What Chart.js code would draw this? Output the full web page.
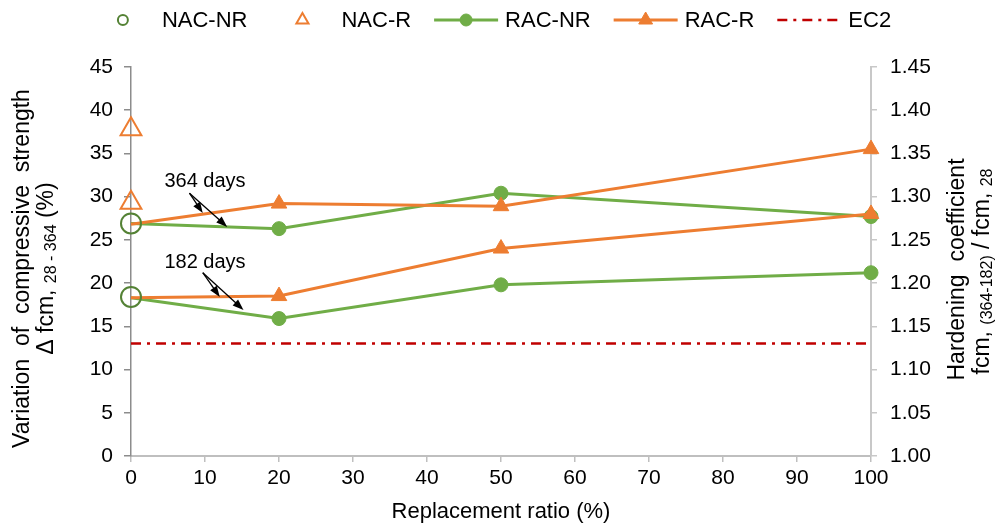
<!DOCTYPE html>
<html>
<head>
<meta charset="utf-8">
<script src="https://cdn.jsdelivr.net/npm/chart.js@4.4.1/dist/chart.umd.min.js"></script>
<style>
  html, body { margin: 0; padding: 0; background: #fff; }
  #wrap { width: 999px; height: 527px; }
</style>
</head>
<body>
<div id="wrap"><canvas id="chart" width="999" height="527"></canvas></div>
<script>
// replacement ratio (%) and variation of compressive strength (%)
const ratios = [0, 20, 50, 100];
const racNr364 = [26.9, 26.3, 30.4, 27.7];
const racNr182 = [18.3, 15.9, 19.8, 21.2];
const racR364 = [26.8, 29.2, 28.9, 35.5];
const racR182 = [18.3, 18.5, 24.0, 28.0];
const nacX = [0, 0];
const nacNr = [26.9, 18.4];
const nacR = [37.8, 29.3];
const ec2X = [0, 100];
const ec2 = [13.0, 13.0];

const leftAxis = { min: 0, max: 45, step: 5 };
const rightAxis = { min: 1.00, max: 1.45, step: 0.05 };
const xAxis = { min: 0, max: 100, step: 10 };

const FONT = '"Liberation Sans", Arial, sans-serif';
const green = '#70AD47', darkGreen = '#548235', orange = '#ED7D31', red = '#C00000';

function pts(xs, ys) {
    return ys.map(function(y, i) { return { x: xs[i], y: y }; });
}

// annotation arrows, in data units
const notes = [
    { text: '364 days', at: [10, 31.8], from: [7.9, 30.4], to: [[9.7, 28.1], [13.0, 26.5]] },
    { text: '182 days', at: [10, 22.4], from: [9.7, 21.2], to: [[12.0, 18.4], [15.2, 16.9]] }
];

function drawRich(ctx, parts, cx, cy, size) {
    ctx.save();
    ctx.translate(cx, cy);
    ctx.rotate(-Math.PI / 2);
    let w = 0;
    parts.forEach(function(p) {
        ctx.font = (p.sub ? Math.round(size * 0.68) : size) + 'px ' + FONT;
        p.w = ctx.measureText(p.t).width;
        w += p.w;
    });
    let x = -w / 2;
    ctx.textBaseline = 'middle';
    ctx.textAlign = 'left';
    ctx.fillStyle = '#000';
    parts.forEach(function(p) {
        ctx.font = (p.sub ? Math.round(size * 0.68) : size) + 'px ' + FONT;
        ctx.fillText(p.t, x, p.sub ? 5 : 0);
        x += p.w;
    });
    ctx.restore();
}

const titlesPlugin = {
    id: 'axisTitles',
    afterDraw(chart) {
        const ctx = chart.ctx;
        const cy = (chart.chartArea.top + chart.chartArea.bottom) / 2;
        drawRich(ctx, [{ t: 'Variation  of  compressive  strength' }], 23, cy + 7, 23);
        drawRich(ctx, [{ t: '\u0394 fcm, ' }, { t: '28 - 364', sub: true }, { t: ' (%)' }], 47, cy + 7, 23);
        drawRich(ctx, [{ t: 'Hardening  coefficient' }], 958, cy + 8, 23);
        drawRich(ctx, [{ t: 'fcm, ' }, { t: '(364-182)', sub: true }, { t: ' / fcm, ' }, { t: '28', sub: true }], 983, cy + 10, 23);
    }
};

function arrow(ctx, x1, y1, x2, y2) {
    const a = Math.atan2(y2 - y1, x2 - x1);
    ctx.beginPath();
    ctx.moveTo(x1, y1);
    ctx.lineTo(x2 - 8 * Math.cos(a), y2 - 8 * Math.sin(a));
    ctx.stroke();
    ctx.beginPath();
    ctx.moveTo(x2, y2);
    ctx.lineTo(x2 - 11 * Math.cos(a) + 4 * Math.sin(a), y2 - 11 * Math.sin(a) - 4 * Math.cos(a));
    ctx.lineTo(x2 - 11 * Math.cos(a) - 4 * Math.sin(a), y2 - 11 * Math.sin(a) + 4 * Math.cos(a));
    ctx.closePath();
    ctx.fill();
}

const notesPlugin = {
    id: 'notes',
    afterDatasetsDraw(chart) {
        const ctx = chart.ctx, sx = chart.scales.x, sy = chart.scales.y;
        ctx.save();
        ctx.font = '20px ' + FONT;
        ctx.fillStyle = '#000';
        ctx.strokeStyle = '#000';
        ctx.lineWidth = 1.3;
        ctx.textAlign = 'center';
        ctx.textBaseline = 'middle';
        notes.forEach(function(n) {
            ctx.fillText(n.text, sx.getPixelForValue(n.at[0]), sy.getPixelForValue(n.at[1]));
            n.to.forEach(function(t) {
                arrow(ctx, sx.getPixelForValue(n.from[0]), sy.getPixelForValue(n.from[1]),
                    sx.getPixelForValue(t[0]), sy.getPixelForValue(t[1]));
            });
        });
        ctx.restore();
    }
};

const legendPlugin = {
    id: 'excelLegend',
    afterDraw(chart) {
        const ctx = chart.ctx;
        const items = chart.data.datasets.filter(function(d) { return d.inLegend; });
        const box = 64, gap = 7, sep = 23, y = 20;
        ctx.save();
        ctx.font = '22px ' + FONT;
        let total = 0;
        items.forEach(function(d, i) {
            total += box + gap + ctx.measureText(d.label).width + (i < items.length - 1 ? sep : 0);
        });
        let x = 491 - total / 2;
        items.forEach(function(d) {
            if (d.showLine !== false) {
                ctx.save();
                ctx.strokeStyle = d.borderColor;
                ctx.lineWidth = d.borderWidth;
                ctx.setLineDash(d.borderDash || []);
                ctx.beginPath();
                ctx.moveTo(x, y);
                ctx.lineTo(x + box, y);
                ctx.stroke();
                ctx.restore();
            }
            if (d.legendRadius) {
                ctx.save();
                ctx.fillStyle = d.pointBackgroundColor;
                ctx.strokeStyle = d.pointBorderColor;
                ctx.lineWidth = d.pointBorderWidth;
                Chart.helpers.drawPoint(ctx, { pointStyle: d.pointStyle, radius: d.legendRadius, borderWidth: d.pointBorderWidth, rotation: 0 }, x + box / 2, y);
                ctx.restore();
            }
            ctx.font = '22px ' + FONT;
            ctx.fillStyle = '#000';
            ctx.textAlign = 'left';
            ctx.textBaseline = 'middle';
            ctx.fillText(d.label, x + box + gap, y + 1);
            x += box + gap + ctx.measureText(d.label).width + sep;
        });
        ctx.restore();
    }
};

const tickFont = { size: 21, family: FONT };

new Chart(document.getElementById('chart'), {
    type: 'line',
    data: {
        datasets: [{
            label: 'NAC-NR', inLegend: true, legendRadius: 5,
            data: pts(nacX, nacNr),
            showLine: false, pointStyle: 'circle', pointRadius: 10,
            pointBorderWidth: 2, pointBorderColor: darkGreen, pointBackgroundColor: 'rgba(0,0,0,0)',
            order: 0, clip: false
        }, {
            label: 'NAC-R', inLegend: true, legendRadius: 7,
            data: pts(nacX, nacR),
            showLine: false, pointStyle: 'triangle', pointRadius: 12,
            pointBorderWidth: 2, pointBorderColor: orange, pointBackgroundColor: 'rgba(0,0,0,0)',
            order: 0, clip: false
        }, {
            label: 'RAC-NR', inLegend: true, legendRadius: 6,
            data: pts(ratios, racNr364),
            borderColor: green, borderWidth: 3, pointStyle: 'circle', pointRadius: [0, 7, 7, 7],
            pointBackgroundColor: green, pointBorderColor: green, pointBorderWidth: 1,
            order: 2, clip: false
        }, {
            label: 'RAC-NR 182',
            data: pts(ratios, racNr182),
            borderColor: green, borderWidth: 3, pointStyle: 'circle', pointRadius: [0, 7, 7, 7],
            pointBackgroundColor: green, pointBorderColor: green, pointBorderWidth: 1,
            order: 2, clip: false
        }, {
            label: 'RAC-R', inLegend: true, legendRadius: 8,
            data: pts(ratios, racR364),
            borderColor: orange, borderWidth: 3, pointStyle: 'triangle', pointRadius: [0, 9, 9, 9],
            pointBackgroundColor: orange, pointBorderColor: orange, pointBorderWidth: 1,
            order: 1, clip: false
        }, {
            label: 'RAC-R 182',
            data: pts(ratios, racR182),
            borderColor: orange, borderWidth: 3, pointStyle: 'triangle', pointRadius: [0, 9, 9, 9],
            pointBackgroundColor: orange, pointBorderColor: orange, pointBorderWidth: 1,
            order: 1, clip: false
        }, {
            label: 'EC2', inLegend: true,
            data: pts(ec2X, ec2),
            borderColor: red, borderWidth: 2.5, borderDash: [10, 6, 3, 6], pointRadius: 0,
            order: 3
        }]
    },
    options: {
        responsive: false,
        animation: false,
        devicePixelRatio: 1,
        layout: { padding: { top: 67, left: 0, right: 0, bottom: 0 } },
        elements: { line: { tension: 0 } },
        plugins: { legend: { display: false }, tooltip: { enabled: false } },
        scales: {
            x: {
                type: 'linear', min: xAxis.min, max: xAxis.max,
                ticks: { stepSize: xAxis.step, color: '#000', font: tickFont, padding: 4, maxRotation: 0 },
                grid: { drawOnChartArea: false, color: '#bfbfbf', lineWidth: 1.5, tickLength: 6 },
                border: { color: '#bfbfbf', width: 2 },
                title: { display: true, text: 'Replacement ratio (%)', color: '#000', font: { size: 22, family: FONT }, padding: { top: 0, bottom: 2 } },
                afterFit(s) { s.height = 71; }
            },
            y: {
                position: 'left', min: leftAxis.min, max: leftAxis.max,
                ticks: { stepSize: leftAxis.step, color: '#000', font: tickFont, padding: 11 },
                grid: { drawOnChartArea: false, color: '#8c8c8c', lineWidth: 1.5, tickLength: 7 },
                border: { color: '#8c8c8c', width: 1.5 },
                afterFit(s) { s.width = 131; }
            },
            y2: {
                position: 'right', min: rightAxis.min, max: rightAxis.max,
                ticks: { stepSize: rightAxis.step, color: '#000', font: tickFont, padding: 13,
                    callback: function(v) { return v.toFixed(2); } },
                grid: { drawOnChartArea: false, color: '#c8c8c8', lineWidth: 1.5, tickLength: 6 },
                border: { color: '#c8c8c8', width: 2 },
                afterFit(s) { s.width = 128; }
            }
        }
    },
    plugins: [notesPlugin, titlesPlugin, legendPlugin]
});
</script>
</body>
</html>
